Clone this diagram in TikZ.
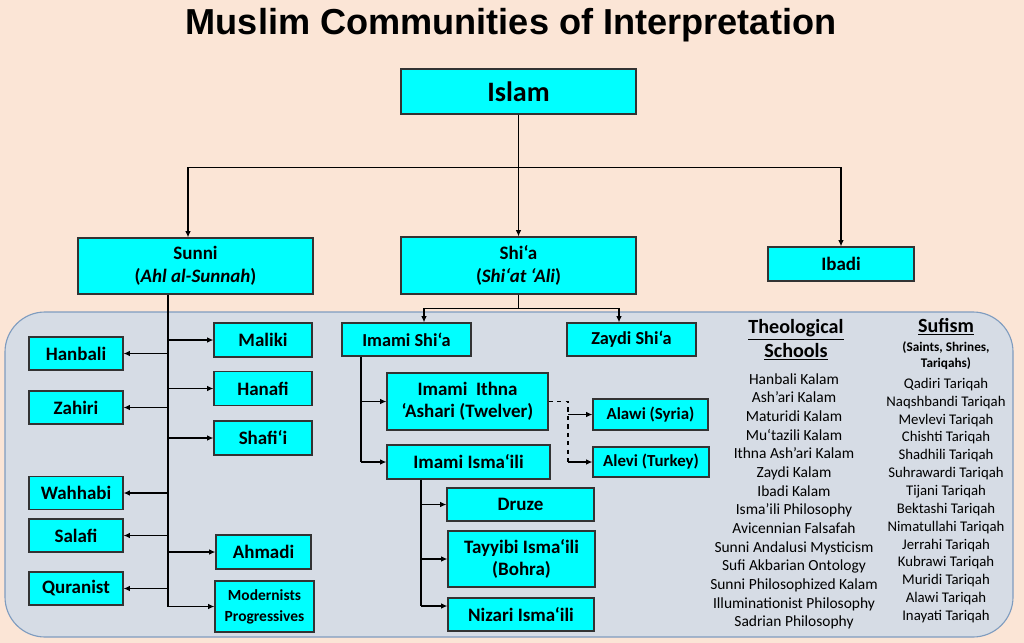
\documentclass[tikz,border=0pt]{standalone}
\usepackage{fontspec}
\setmainfont{Carlito}
\newfontfamily\titlefont{Liberation Sans}
\usepackage{xcolor}
\usetikzlibrary{arrows.meta}

\definecolor{peach}{HTML}{FBE5D6}
\definecolor{panelfill}{HTML}{D6DCE5}
\definecolor{panelline}{HTML}{7F9CBF}
\definecolor{boxcyan}{HTML}{00FFFF}
\definecolor{boxline}{HTML}{333333}

\begin{document}
\begin{tikzpicture}[x=0.025cm, y=-0.025cm,
    box/.style 2 args={draw=boxline, line width=0.9pt, fill=boxcyan,
      minimum width=#1*0.025cm, minimum height=#2*0.025cm, inner sep=0pt,
      align=center, font=\bfseries\fontsize{13.5}{16}\selectfont},
    arr/.style={-{Latex[length=4.5pt,width=4pt]}, line width=0.8pt},
    link/.style={line width=0.8pt}]
  % Hintergrund
  \fill[peach] (0,0) rectangle (1024,643);
  \useasboundingbox (0,0) rectangle (1024,643);
  \node[anchor=base] (title) at (511,35)
    {\titlefont\bfseries\fontsize{25.7}{30}\selectfont Muslim Communities of Interpretation};

  % Panel
  \draw[panelline, fill=panelfill, line width=0.8pt, rounded corners=1cm] (5,312) rectangle (1013,637);

  % Obere Ebene
  \node[box={235}{45}, font=\bfseries\fontsize{20}{24}\selectfont] (islam) at (518.5,91.5) {Islam};
  \node[box={235}{56}] (sunni) at (195.5,266) {Sunni\\(\textit{Ahl al-Sunnah})};
  \node[box={235}{57}] (shia) at (518.5,265.5) {Shi‘a\\(\textit{Shi‘at ‘Ali})};
  \node[box={146}{34}] (ibadi) at (841,264) {Ibadi};

  \draw[arr] (islam.south) -- ++(0,53) -| (sunni.north -| 188,0);
  \draw[arr] (islam.south) -- (shia.north);
  \draw[arr] (islam.south) -- ++(0,53) -| (ibadi.north);

  % Sunni
  \node[box={94}{33}] (hanbali) at (76,353.5) {Hanbali};
  \node[box={94}{33}] (zahiri) at (76,407.5) {Zahiri};
  \node[box={94}{33}] (wahhabi) at (76,493) {Wahhabi};
  \node[box={94}{33}] (salafi) at (76,535.5) {Salafi};
  \node[box={94}{33}] (quranist) at (76,588.5) {Quranist};
  \node[box={98}{34}] (maliki) at (263,340) {Maliki};
  \node[box={98}{34}] (hanafi) at (263,388.5) {Hanafi};
  \node[box={98}{34}] (shafii) at (263,438) {Shafi‘i};
  \node[box={95}{34}] (ahmadi) at (263.5,552) {Ahmadi};
  \node[box={99}{51}, font=\bfseries\fontsize{11}{15}\selectfont] (modern) at (264.5,606.5)
    {Modernists\\Progressives};

  \coordinate (strunk) at (sunni.south -| 168,0);
  \draw[link] (strunk) -- (strunk |- modern);
  \draw[arr] (strunk |- hanbali) -- (hanbali);
  \draw[arr] (strunk |- zahiri) -- (zahiri);
  \draw[arr] (strunk |- wahhabi) -- (wahhabi);
  \draw[arr] (strunk |- salafi) -- (salafi);
  \draw[arr] (strunk |- quranist) -- (quranist);
  \draw[arr] (strunk |- maliki) -- (maliki);
  \draw[arr] (strunk |- hanafi) -- (hanafi);
  \draw[arr] (strunk |- shafii) -- (shafii);
  \draw[arr] (strunk |- ahmadi) -- (ahmadi);
  \draw[arr] (strunk |- modern) -- (modern);

  % Shi'a
  \node[box={129}{33}, font=\bfseries\fontsize{13}{16}\selectfont] (imami) at (406.5,339.5) {Imami Shi‘a};
  \node[box={129}{33}, font=\bfseries\fontsize{13}{16}\selectfont] (zaydi) at (631.5,339.5) {Zaydi Shi‘a};
  \node[box={161}{57}] (ithna) at (467.5,401.5) {Imami~~Ithna\\‘Ashari (Twelver)};
  \node[box={163}{34}] (ismaili) at (468.5,462) {Imami Isma‘ili};
  \node[box={115}{31}, font=\bfseries\fontsize{12}{15}\selectfont] (alawi) at (650.5,414.5) {Alawi (Syria)};
  \node[box={116}{30}, font=\bfseries\fontsize{12}{15}\selectfont] (alevi) at (651,462) {Alevi (Turkey)};
  \node[box={147}{33}] (druze) at (520.5,504.5) {Druze};
  \node[box={147}{56}] (tayyibi) at (521.5,559) {Tayyibi Isma‘ili\\(Bohra)};
  \node[box={146}{33}] (nizari) at (521,614.5) {Nizari Isma‘ili};

  \draw[arr] (shia.south) -- ++(0,14) -| (imami.north -| 424,0);
  \draw[arr] (shia.south) -- ++(0,14) -| (zaydi.north -| 619,0);

  \coordinate (itrunk) at (imami.south -| 361,0);
  \draw[link] (itrunk) -- (itrunk |- ismaili);
  \draw[arr] (itrunk |- ithna) -- (ithna);
  \draw[arr] (itrunk |- ismaili) -- (ismaili);

  \coordinate (dsh) at (568,0);
  \draw[link, dashed] (ithna.east) -- (ithna.east -| dsh) -- (alevi -| dsh);
  \draw[arr] (alawi -| dsh) -- (alawi);
  \draw[arr] (alevi -| dsh) -- (alevi);

  \coordinate (mtrunk) at (ismaili.south -| 421,0);
  \draw[link] (mtrunk) -- (mtrunk |- 0,606);
  \draw[arr] (mtrunk |- druze) -- (druze);
  \draw[arr] (mtrunk |- tayyibi) -- (tayyibi);
  \draw[arr] (mtrunk |- 0,606) -- (nizari.west |- 0,606);

  % Listen
  \node[font=\bfseries\fontsize{14.3}{17}\selectfont, align=center] (theohead) at (796,340)
    {\underline{Theological}\\\underline{Schools}};
  \node[font=\fontsize{11}{13.27}\selectfont, align=center] (theo) at (794,501.5)
    {Hanbali Kalam\\Ash’ari Kalam\\Maturidi Kalam\\Mu‘tazili Kalam\\Ithna Ash’ari Kalam\\
     Zaydi Kalam\\Ibadi Kalam\\Isma’ili Philosophy\\Avicennian Falsafah\\
     Sunni Andalusi Mysticism\\Sufi Akbarian Ontology\\Sunni Philosophized Kalam\\
     Illuminationist Philosophy\\Sadrian Philosophy};
  \node[font=\bfseries\fontsize{14.3}{17}\selectfont] (sufihead) at (946,327) {\underline{Sufism}};
  \node[font=\bfseries\fontsize{9.4}{11.4}\selectfont, align=center] (sufisub) at (946,356)
    {(Saints, Shrines,\\Tariqahs)};
  \node[font=\fontsize{10.5}{12.7}\selectfont, align=center] (sufi) at (946,500.5)
    {Qadiri Tariqah\\Naqshbandi Tariqah\\Mevlevi Tariqah\\Chishti Tariqah\\
     Shadhili Tariqah\\Suhrawardi Tariqah\\Tijani Tariqah\\Bektashi Tariqah\\
     Nimatullahi Tariqah\\Jerrahi Tariqah\\Kubrawi Tariqah\\Muridi Tariqah\\
     Alawi Tariqah\\Inayati Tariqah};
\end{tikzpicture}
\end{document}
